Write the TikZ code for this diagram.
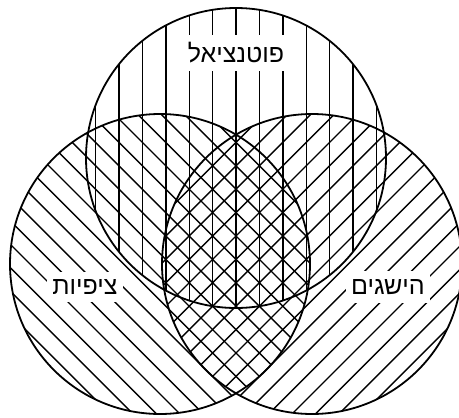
\documentclass[tikz,border=0pt]{standalone}
\usepackage{fontspec}
\newfontfamily\hebfont[Script=Hebrew]{Liberation Sans}
\TeXXeTstate=1
\begin{document}
\begin{tikzpicture}[x=1pt,y=-1pt,
  rim/.style={line width=1.8pt},
  hatch/.style={line width=1.4pt},
  lbl/.style={fill=white,inner xsep=5pt,inner ysep=8pt,font=\hebfont\fontsize{25}{30}\selectfont}]
\useasboundingbox (0,0) rectangle (459,418);
% vertical hatch in top circle
\begin{scope}
  \clip (236,158) circle[radius=150pt];
  \foreach \hx in {72.2,95.6,119.0,142.4,165.8,189.2,212.6,236.0,259.4,282.8,306.2,329.6,353.0,376.4,399.8}
    \draw[hatch] (\hx,0) -- (\hx,418);
\end{scope}
% "\" hatch in left circle
\begin{scope}
  \clip (160,264) circle[radius=150pt];
  \foreach \hc in {-327.6,-304.2,-280.8,-257.4,-234.0,-210.6,-187.2,-163.8,-140.4,-117.0,-93.6,-70.2,-46.8,-23.4,0,23.4,46.8,70.2,93.6,117.0,140.4,163.8,187.2,210.6,234.0,257.4,280.8,304.2,327.6}
    \draw[hatch] (-20,-20+\hc) -- (480,480+\hc);
\end{scope}
% "/" hatch in right circle
\begin{scope}
  \clip (312,264) circle[radius=150pt];
  \foreach \hc in {-327.6,-304.2,-280.8,-257.4,-234.0,-210.6,-187.2,-163.8,-140.4,-117.0,-93.6,-70.2,-46.8,-23.4,0,23.4,46.8,70.2,93.6,117.0,140.4,163.8,187.2,210.6,234.0,257.4,280.8,304.2,327.6}
    \draw[hatch] (-20,492+\hc) -- (480,-8+\hc);
\end{scope}
% labels
\node[lbl] (pot) at (236,53) {\beginR פוטנציאל\endR};
\node[lbl] (tsi) at (85,287) {\beginR ציפיות\endR};
\node[lbl] (his) at (388,287) {\beginR הישגים\endR};
% circles
\draw[rim] (236,158) circle[radius=150pt];
\draw[rim] (160,264) circle[radius=150pt];
\draw[rim] (312,264) circle[radius=150pt];
\end{tikzpicture}
\end{document}
